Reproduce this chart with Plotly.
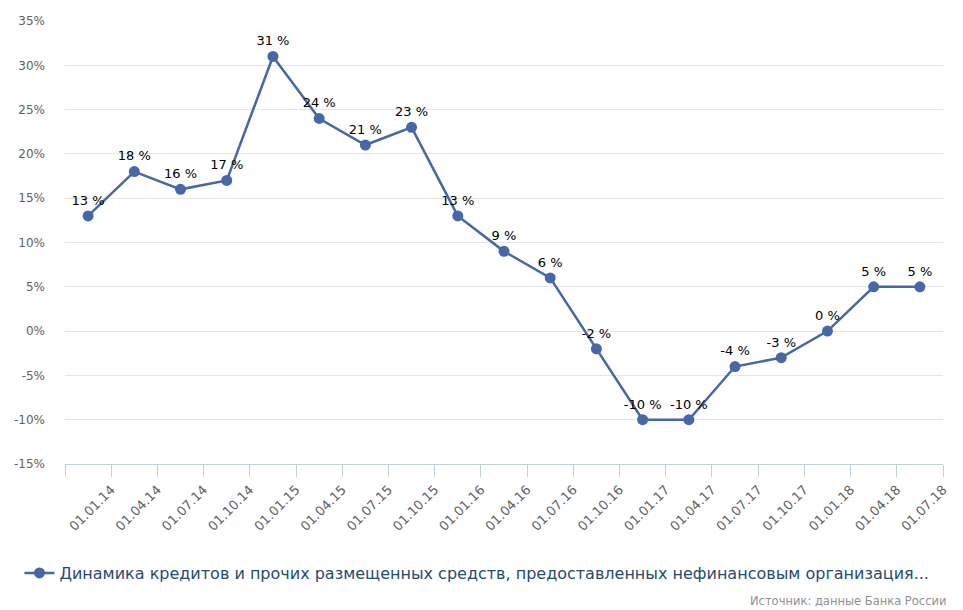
import plotly.graph_objects as go

# Динамика кредитов нефинансовым организациям, % г/г
dates = ["01.01.14", "01.04.14", "01.07.14", "01.10.14", "01.01.15", "01.04.15",
         "01.07.15", "01.10.15", "01.01.16", "01.04.16", "01.07.16", "01.10.16",
         "01.01.17", "01.04.17", "01.07.17", "01.10.17", "01.01.18", "01.04.18",
         "01.07.18"]
values = [13, 18, 16, 17, 31, 24, 21, 23, 13, 9, 6, -2, -10, -10, -4, -3, 0, 5, 5]
y_ticks = [-15, -10, -5, 0, 5, 10, 15, 20, 25, 30, 35]

series_name = ("Динамика кредитов и прочих размещенных средств, "
               "предоставленных нефинансовым организация...")

LINE = "#4767a6"
FONT = "DejaVu Sans"

# точки стоят между метками оси (как в исходном графике)
xs = list(range(len(values)))
tick_pos = [-0.5] + [i + 0.5 for i in xs]
tick_txt = [""] + dates

fig = go.Figure(go.Scatter(
    x=xs, y=values,
    mode="lines+markers+text",
    name=series_name,
    line=dict(color=LINE, width=2.5),
    marker=dict(color=LINE, size=11),
    text=[f"{v} %" for v in values],
    textposition="top center",
    textfont=dict(family=FONT, size=13, color="#000000"),
    cliponaxis=False,
))

# страница имеет отступ body 8px, поэтому фигура чуть меньше окна
fig.update_layout(
    width=955, height=602,
    paper_bgcolor="#ffffff",
    plot_bgcolor="#ffffff",
    font=dict(family=FONT, size=12, color="#606060"),
    margin=dict(l=57, r=20, t=13, b=146),
    showlegend=True,
    legend=dict(
        orientation="h",
        xref="container", yref="container",
        x=0.012, y=0.0615, xanchor="left", yanchor="middle",
        font=dict(family=FONT, size=16, color="#274b6d"),
        itemwidth=30,
    ),
    xaxis=dict(
        range=[-0.5, 18.5],
        tickmode="array", tickvals=tick_pos, ticktext=tick_txt,
        tickangle=-45,
        ticks="outside", ticklen=12, tickcolor="#c0d0e0",
        showline=True, linecolor="#c0d0e0", linewidth=1,
        showgrid=False, zeroline=False, automargin=False,
        tickfont=dict(family=FONT, size=13, color="#606060"),
    ),
    yaxis=dict(
        range=[-15, 35],
        tickmode="array", tickvals=y_ticks,
        ticktext=[f"{v}%" for v in y_ticks],
        showgrid=True, gridcolor="#e6e6e6", gridwidth=1,
        zeroline=False, showline=False, automargin=False,
        tickfont=dict(family=FONT, size=12, color="#606060"),
        ticklabelstandoff=19,
    ),
    annotations=[dict(
        text="Источник: данные Банка России",
        xref="paper", yref="paper", x=1.006, y=-0.31,
        xanchor="right", yanchor="middle", showarrow=False,
        font=dict(family=FONT, size=11.5, color="#909090"),
    )],
)

fig.write_html("out.html")
